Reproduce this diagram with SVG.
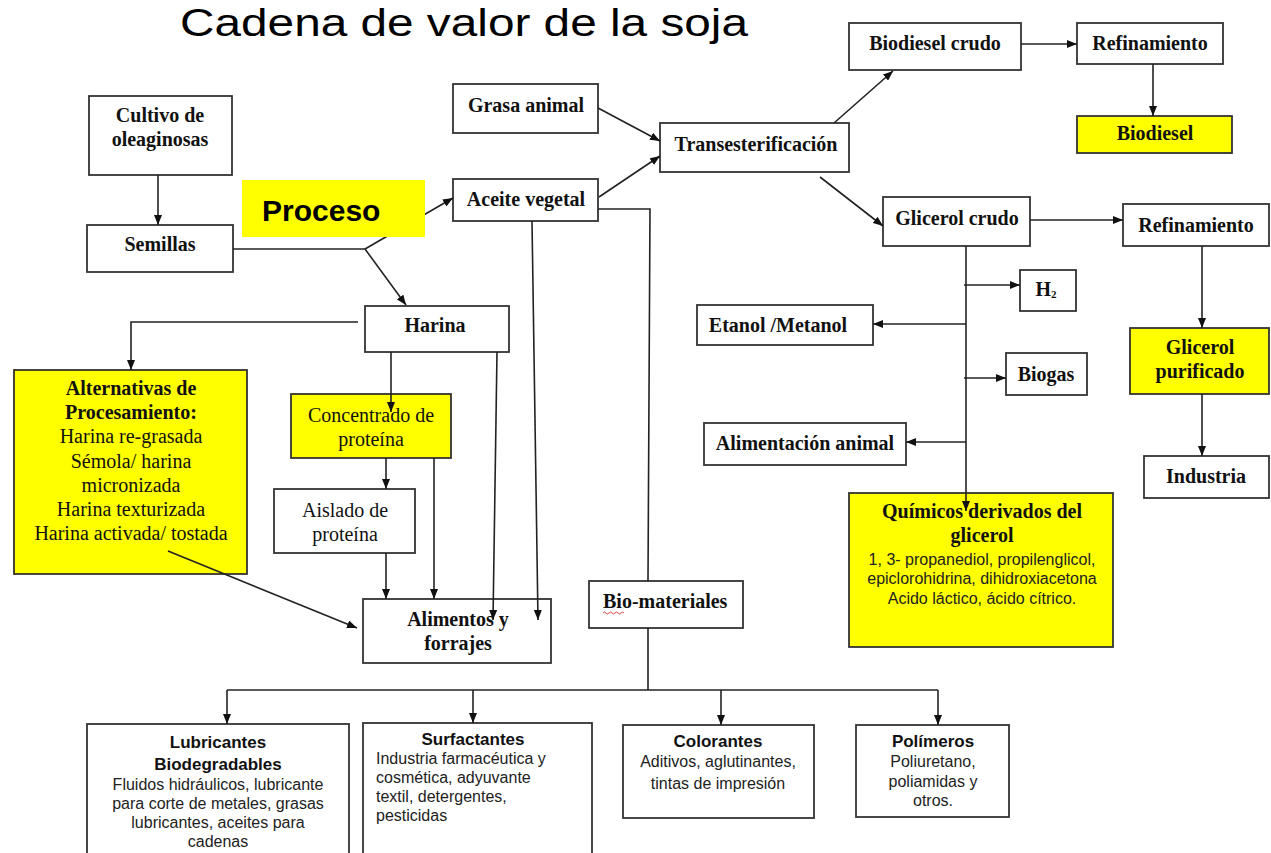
<svg xmlns="http://www.w3.org/2000/svg" width="1271" height="853" viewBox="0 0 1271 853">
<defs>
<marker id="ah" markerUnits="userSpaceOnUse" markerWidth="10" markerHeight="8" refX="10" refY="4" orient="auto">
<path d="M0,0 L10,4 L0,8 z" fill="#111"/>
</marker>
<style>
.box{fill:#fff;stroke:#333;stroke-width:1.8}
.ybox{fill:#ffff00;stroke:#333;stroke-width:1.8}
.c{fill:none;stroke:#222;stroke-width:1.6}
.a{marker-end:url(#ah)}
.tb{font-family:"Liberation Serif",serif;font-weight:bold;font-size:20px;fill:#111;text-anchor:middle}
.tr{font-family:"Liberation Serif",serif;font-size:20px;fill:#111;text-anchor:middle}
.ab{font-family:"Liberation Sans",Arial,sans-serif;font-weight:bold;font-size:17px;fill:#111;text-anchor:middle}
.ar{font-family:"Liberation Sans",Arial,sans-serif;font-size:16px;fill:#222;text-anchor:middle}
.st{text-anchor:start}
</style>
</defs>
<rect width="1271" height="853" fill="#fff"/>
<text x="180" y="36" font-family="Liberation Sans, Arial, sans-serif" font-size="38" fill="#000" textLength="568" lengthAdjust="spacingAndGlyphs">Cadena de valor de la soja</text>

<g id="cultivo"><rect class="box" x="89" y="96" width="143" height="79"/><text class="tb" x="160" y="122">Cultivo de</text><text class="tb" x="160" y="146">oleaginosas</text></g>
<g id="semillas"><rect class="box" x="87" y="225" width="146" height="47"/><text class="tb" x="160" y="251">Semillas</text></g>
<g id="grasa"><rect class="box" x="453" y="84" width="145" height="49"/><text class="tb" x="526" y="112">Grasa animal</text></g>
<g id="aceite"><rect class="box" x="453" y="179" width="145" height="42"/><text class="tb" x="526" y="206">Aceite vegetal</text></g>
<g id="trans"><rect class="box" x="660" y="123" width="189" height="49"/><text class="tb" x="756" y="151">Transesterificación</text></g>
<g id="biodiesel-crudo"><rect class="box" x="849" y="23" width="172" height="47"/><text class="tb" x="935" y="50">Biodiesel crudo</text></g>
<g id="refinamiento1"><rect class="box" x="1077" y="23" width="146" height="41"/><text class="tb" x="1150" y="50">Refinamiento</text></g>
<g id="biodiesel"><rect class="ybox" x="1077" y="116" width="155" height="37"/><text class="tb" x="1155" y="140">Biodiesel</text></g>
<g id="glicerol-crudo"><rect class="box" x="883" y="197" width="147" height="49"/><text class="tb" x="957" y="225">Glicerol crudo</text></g>
<g id="refinamiento2"><rect class="box" x="1123" y="204" width="146" height="42"/><text class="tb" x="1196" y="232">Refinamiento</text></g>
<g id="h2"><rect class="box" x="1020" y="270" width="56" height="41"/><text class="tb" x="1046" y="296">H<tspan font-size="11" dy="2">2</tspan></text></g>
<g id="etanol"><rect class="box" x="697" y="305" width="176" height="40"/><text class="tb" x="778" y="332">Etanol /Metanol</text></g>
<g id="biogas"><rect class="box" x="1006" y="353" width="81" height="42"/><text class="tb" x="1046" y="381">Biogas</text></g>
<g id="alim-animal"><rect class="box" x="704" y="423" width="202" height="42"/><text class="tb" x="805" y="450">Alimentación animal</text></g>
<g id="glicerol-purificado"><rect class="ybox" x="1130" y="328" width="139" height="66"/><text class="tb" x="1200" y="354">Glicerol</text><text class="tb" x="1200" y="378">purificado</text></g>
<g id="industria"><rect class="box" x="1144" y="456" width="125" height="42"/><text class="tb" x="1206" y="483">Industria</text></g>
<g id="quimicos"><rect class="ybox" x="849" y="493" width="264" height="154"/>
<text class="tb" x="982" y="518">Químicos derivados del</text><text class="tb" x="982" y="542">glicerol</text>
<text class="ar" x="982" y="565">1, 3- propanediol, propilenglicol,</text>
<text class="ar" x="982" y="584">epiclorohidrina, dihidroxiacetona</text>
<text class="ar" x="982" y="604">Acido láctico, ácido cítrico.</text></g>
<g id="harina"><rect class="box" x="365" y="306" width="144" height="46"/><text class="tb" x="435" y="332">Harina</text></g>
<g id="alternativas"><rect class="ybox" x="14" y="370" width="233" height="204"/>
<text class="tb" x="131" y="395">Alternativas de</text><text class="tb" x="131" y="419">Procesamiento:</text>
<text class="tr" x="131" y="443">Harina re-grasada</text><text class="tr" x="131" y="468">Sémola/ harina</text>
<text class="tr" x="131" y="492">micronizada</text><text class="tr" x="131" y="516">Harina texturizada</text>
<text class="tr" x="131" y="540">Harina activada/ tostada</text></g>
<g id="concentrado"><rect class="ybox" x="291" y="394" width="160" height="64"/><text class="tr" x="371" y="422">Concentrado de</text><text class="tr" x="371" y="446">proteína</text></g>
<g id="aislado"><rect class="box" x="274" y="489" width="141" height="64"/><text class="tr" x="345" y="517">Aislado de</text><text class="tr" x="345" y="541">proteína</text></g>
<g id="alimentos"><rect class="box" x="363" y="599" width="188" height="64"/><text class="tb" x="458" y="626">Alimentos y</text><text class="tb" x="458" y="650">forrajes</text></g>
<g id="biomateriales"><rect class="box" x="589" y="581" width="154" height="47"/><text class="tb st" x="603" y="608">Bio-materiales</text>
<path d="M603,613 q1.5,-2 3,0 t3,0 t3,0 t3,0 t3,0 t3,0 t3,0" fill="none" stroke="#e03030" stroke-width="0.9"/></g>
<g id="lubricantes"><rect class="box" x="87" y="724" width="262" height="140"/>
<text class="ab" x="218" y="748" font-size="18">Lubricantes</text><text class="ab" x="218" y="770" font-size="18">Biodegradables</text>
<text class="ar" x="218" y="790">Fluidos hidráulicos, lubricante</text>
<text class="ar" x="218" y="809">para corte de metales, grasas</text>
<text class="ar" x="218" y="828">lubricantes, aceites para</text>
<text class="ar" x="218" y="847">cadenas</text></g>
<g id="surfactantes"><rect class="box" x="363" y="723" width="229" height="140"/>
<text class="ab" x="473" y="745">Surfactantes</text>
<text class="ar st" x="376" y="764">Industria farmacéutica y</text>
<text class="ar st" x="376" y="783">cosmética, adyuvante</text>
<text class="ar st" x="376" y="802">textil, detergentes,</text>
<text class="ar st" x="376" y="821">pesticidas</text></g>
<g id="colorantes"><rect class="box" x="623" y="725" width="191" height="93"/>
<text class="ab" x="718" y="747">Colorantes</text>
<text class="ar" x="718" y="767">Aditivos, aglutinantes,</text>
<text class="ar" x="718" y="789">tintas de impresión</text></g>
<g id="polimeros"><rect class="box" x="856" y="725" width="153" height="92"/>
<text class="ab" x="933" y="747">Polímeros</text>
<text class="ar" x="933" y="767">Poliuretano,</text>
<text class="ar" x="933" y="787">poliamidas y</text>
<text class="ar" x="933" y="806">otros.</text></g>

<g id="connectors">
<path class="c a" d="M158,175 L158,225"/>
<path class="c" d="M233,249 L365,249"/>
<path class="c a" d="M365,249 L453,198"/>
<path class="c a" d="M365,249 L406,305"/>
<path class="c a" d="M598,108 L660,141"/>
<path class="c a" d="M599,197 L660,156"/>
<path class="c" d="M598,209 L650,209 L648,581"/>
<path class="c a" d="M532,221 L538,620"/>
<path class="c a" d="M834,123 L893,71"/>
<path class="c a" d="M820,177 L883,226"/>
<path class="c a" d="M1021,44 L1077,44"/>
<path class="c a" d="M1153,64 L1153,116"/>
<path class="c a" d="M1030,220 L1123,220"/>
<path class="c a" d="M1202,246 L1202,328"/>
<path class="c a" d="M1202,394 L1202,456"/>
<path class="c a" d="M966,246 L966,511"/>
<path class="c a" d="M964,285 L1020,285"/>
<path class="c a" d="M966,324 L873,324"/>
<path class="c a" d="M964,378 L1006,378"/>
<path class="c a" d="M966,442 L906,442"/>
<path class="c a" d="M358,322 L131,322 L131,370"/>
<path class="c a" d="M391,352 L391,412"/>
<path class="c a" d="M497,352 L493,620"/>
<path class="c a" d="M386,458 L386,489"/>
<path class="c a" d="M434,458 L434,599"/>
<path class="c a" d="M386,553 L386,599"/>
<path class="c a" d="M168,551 L357,628"/>
<path class="c" d="M648,628 L648,690"/>
<path class="c" d="M227,690 L938,690"/>
<path class="c a" d="M227,690 L227,724"/>
<path class="c a" d="M473,690 L473,723"/>
<path class="c a" d="M721,690 L721,725"/>
<path class="c a" d="M938,690 L938,725"/>
</g>

<g id="proceso"><rect x="242" y="180" width="183" height="57" fill="#ffff00"/><text x="262" y="221" font-family="Liberation Sans, Arial, sans-serif" font-weight="bold" font-size="30" fill="#000">Proceso</text></g>
</svg>
